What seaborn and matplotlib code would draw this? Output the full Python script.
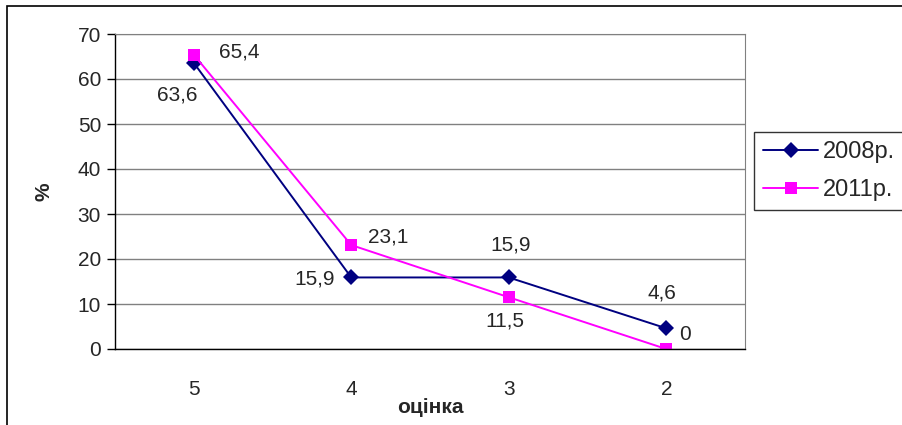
import pandas as pd
import matplotlib
matplotlib.use("Agg")
import matplotlib.pyplot as plt
import seaborn as sns
from matplotlib.patches import Rectangle

grades = ["5", "4", "3", "2"]
vals_2008 = [63.6, 15.9, 15.9, 4.6]
vals_2011 = [65.4, 23.1, 11.5, 0.0]
years = ["2008р.", "2011р."]

rows = []
for i, g in enumerate(grades):
    rows.append({"pos": i, "grade": g, "value": vals_2008[i], "year": years[0]})
    rows.append({"pos": i, "grade": g, "value": vals_2011[i], "year": years[1]})
df = pd.DataFrame(rows)

sns.set_style("white")
plt.rcParams["font.family"] = ["Liberation Sans", "DejaVu Sans"]

fig = plt.figure(figsize=(9.02, 4.25), dpi=100)
ax = fig.add_axes([115 / 902, 1 - 349 / 425, 630 / 902, 315 / 425])

colors = {years[0]: "#000080", years[1]: "#FF00FF"}
sns.lineplot(data=df, x="pos", y="value", hue="year", style="year",
             palette=colors, markers={years[0]: "D", years[1]: "s"},
             dashes=False, markersize=8, linewidth=1.4, ax=ax,
             markeredgewidth=0, legend=True)

ax.set_xlim(-0.5, 3.5)
ax.set_ylim(0, 70)
ax.set_yticks(range(0, 71, 10))
ax.yaxis.grid(True, color="#808080", linewidth=1)
ax.set_axisbelow(True)

# category labels centred, tick marks between categories
ax.set_xticks(range(len(grades)))
ax.set_xticklabels(grades, fontsize=15)
ax.set_xticks([-0.5, 0.5, 1.5, 2.5, 3.5], minor=True)
ax.tick_params(axis="x", which="major", length=0, pad=22)
ax.tick_params(axis="x", which="minor", length=6, width=1, color="black", direction="out")
ax.tick_params(axis="y", length=6, width=1, color="black", direction="out",
               labelsize=15, left=True, pad=4)

for s in ["left", "bottom"]:
    ax.spines[s].set_color("black")
    ax.spines[s].set_linewidth(1)
ax.spines["right"].set_color("#808080")
ax.spines["top"].set_color("#808080")

ax.set_xlabel("оцінка", fontsize=15, fontweight="bold")
ax.xaxis.set_label_coords(0.5, -0.155)
ax.set_ylabel("%", fontsize=15, fontweight="bold")
ax.yaxis.set_label_coords(-0.097, 0.5)

def fmt(v):
    return f"{v:g}".replace(".", ",")

# label offsets in pixels (converted to points below)
offsets_2008 = [(-16, -32), (-37, -2), (2, 32), (-4, 35)]
offsets_2011 = [(45, 3), (37, 8), (-4, -24), (19, 14)]
for i in range(len(grades)):
    dx, dy = offsets_2008[i]
    ax.annotate(fmt(vals_2008[i]), (i, vals_2008[i]), textcoords="offset points",
                xytext=(dx * 0.72, dy * 0.72), ha="center", va="center", fontsize=15)
    dx, dy = offsets_2011[i]
    ax.annotate(fmt(vals_2011[i]), (i, vals_2011[i]), textcoords="offset points",
                xytext=(dx * 0.72, dy * 0.72), ha="center", va="center", fontsize=15)

leg = ax.legend(loc="upper left", bbox_to_anchor=(754 / 902, 1 - 132 / 425),
                bbox_transform=fig.transFigure, frameon=True, fancybox=False,
                fontsize=17, handlelength=2.3, borderpad=0.4, labelspacing=0.65,
                borderaxespad=0, handletextpad=0.2)
leg.get_frame().set_edgecolor("black")
leg.get_frame().set_linewidth(1)

fig.patches.append(Rectangle((7 / 902, -0.05), 1.1, 1 - 6 / 425 + 0.05,
                             transform=fig.transFigure, fill=False,
                             edgecolor="black", linewidth=1.2))

fig.savefig("out.png", dpi=100)
